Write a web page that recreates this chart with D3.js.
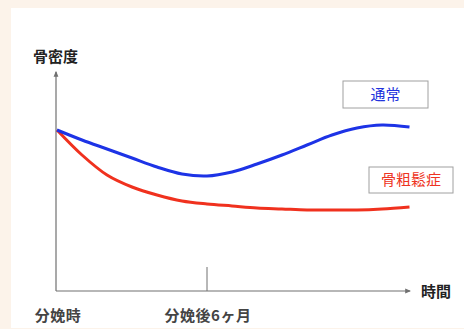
<!DOCTYPE html>
<html>
<head>
<meta charset="utf-8">
<script src="https://cdn.jsdelivr.net/npm/d3@7"></script>
<style>
  body { margin: 0; background: #fcf3ea; }
  svg { display: block; }
</style>
</head>
<body>
<div id="chart"></div>
<script>
var svgWidth = 464;
var svgHeight = 329;

// months after delivery
var months = [0, 1, 2, 3, 4, 5, 6, 7, 8, 9, 10, 11, 12, 13, 14.1];
// relative bone density
var normalValues = [161, 151, 142, 133, 124, 117, 115, 119, 127, 136, 146, 156, 163, 166, 164];
var osteoValues = [161, 136, 116, 104, 96, 90, 87, 85, 83, 82, 81, 81, 81, 82, 84];
var seriesNames = ["通常", "骨粗鬆症"];
var tickMonths = [0, 6];
var tickLabels = ["分娩時", "分娩後6ヶ月"];

var svg = d3.select("#chart")
  .append("svg")
  .attr("width", svgWidth)
  .attr("height", svgHeight);

// white panel
svg.append("rect")
  .attr("x", 11)
  .attr("y", 8)
  .attr("width", svgWidth - 11)
  .attr("height", 320)
  .attr("fill", "#ffffff");

var xScale = d3.scaleLinear()
  .domain([0, 14])
  .range([57, 407]);

var yScale = d3.scaleLinear()
  .domain([0, 220])
  .range([291, 71]);

var axisColor = "#707070";

// arrow markers
var defs = svg.append("defs");
defs.append("marker")
  .attr("id", "arrow")
  .attr("viewBox", "0 0 10 10")
  .attr("refX", 8)
  .attr("refY", 5)
  .attr("markerWidth", 5)
  .attr("markerHeight", 5)
  .attr("orient", "auto")
  .append("path")
  .attr("d", "M0,1 L10,5 L0,9 Z")
  .attr("fill", axisColor);

// y axis
svg.append("line")
  .attr("x1", 56).attr("y1", 291)
  .attr("x2", 56).attr("y2", 72)
  .attr("stroke", axisColor)
  .attr("stroke-width", 1.2)
  .attr("marker-end", "url(#arrow)");

// x axis
svg.append("line")
  .attr("x1", 56).attr("y1", 291)
  .attr("x2", 410).attr("y2", 291)
  .attr("stroke", axisColor)
  .attr("stroke-width", 1.2)
  .attr("marker-end", "url(#arrow)");

// 6 month tick
svg.append("line")
  .attr("x1", xScale(6)).attr("y1", 267)
  .attr("x2", xScale(6)).attr("y2", 291)
  .attr("stroke", axisColor)
  .attr("stroke-width", 1);

var labelFont = "'Noto Sans CJK JP', sans-serif";

// x tick labels, centred on the ticks
svg.selectAll(".tickLabel")
  .data(tickMonths)
  .enter()
  .append("text")
  .attr("class", "tickLabel")
  .attr("x", d => xScale(d) + 1)
  .attr("y", 321)
  .attr("text-anchor", "middle")
  .attr("font-family", labelFont)
  .attr("font-weight", "bold")
  .attr("font-size", "15px")
  .attr("letter-spacing", "0.5px")
  .attr("fill", "#444")
  .text((d, i) => tickLabels[i]);

// axis titles
svg.append("text")
  .attr("x", 33)
  .attr("y", 62)
  .attr("font-family", labelFont)
  .attr("font-weight", "bold")
  .attr("font-size", "15px")
  .attr("fill", "#222")
  .text("骨密度");

svg.append("text")
  .attr("x", 421)
  .attr("y", 297)
  .attr("font-family", labelFont)
  .attr("font-weight", "bold")
  .attr("font-size", "15px")
  .attr("fill", "#222")
  .text("時間");

// curves
var line = d3.line()
  .x((d, i) => xScale(months[i]))
  .y(d => yScale(d))
  .curve(d3.curveCatmullRom);

svg.append("path")
  .datum(osteoValues)
  .attr("d", line)
  .attr("fill", "none")
  .attr("stroke", "#f0311e")
  .attr("stroke-width", 3);

svg.append("path")
  .datum(normalValues)
  .attr("d", line)
  .attr("fill", "none")
  .attr("stroke", "#1d33e6")
  .attr("stroke-width", 3);

// legend boxes
var legendBoxes = [
  { x: 343, y: 81, w: 85, h: 27, color: "#2233dd" },
  { x: 369, y: 167, w: 84, h: 26, color: "#ee3322" }
];

var legend = svg.selectAll(".legend")
  .data(legendBoxes)
  .enter()
  .append("g")
  .attr("class", "legend");

legend.append("rect")
  .attr("x", d => d.x)
  .attr("y", d => d.y)
  .attr("width", d => d.w)
  .attr("height", d => d.h)
  .attr("fill", "#ffffff")
  .attr("stroke", "#a0a0a0")
  .attr("stroke-width", 1);

legend.append("text")
  .attr("x", d => d.x + d.w / 2)
  .attr("y", d => d.y + d.h / 2 + 5)
  .attr("text-anchor", "middle")
  .attr("font-family", labelFont)
  .attr("font-size", "15px")
  .attr("fill", d => d.color)
  .text((d, i) => seriesNames[i]);
</script>
</body>
</html>
